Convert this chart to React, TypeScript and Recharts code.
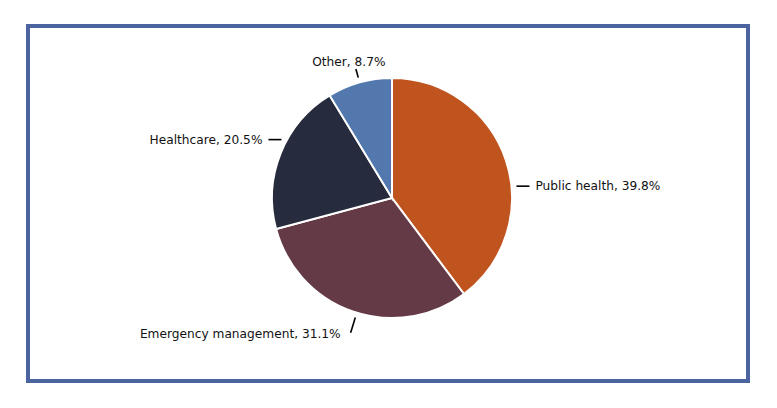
import { PieChart, Pie, Cell } from 'recharts';

const categories = ['Public health', 'Emergency management', 'Healthcare', 'Other'];
const shares = [39.8, 31.1, 20.5, 8.7];
const colors = ['#c0541f', '#643a46', '#262b3d', '#5278ad'];
// degrees to rotate each leader line away from the slice midpoint (best-fit style)
const labelNudge = [-13, 2, -6, 0];

const data = categories.map((name, i) => ({ name, value: shares[i] }));
const RAD = Math.PI / 180;

const renderLabel = (props: any) => {
  const { cx, cy, midAngle, outerRadius, index, name, value } = props;
  const a = (midAngle + labelNudge[index]) * RAD;
  const cos = Math.cos(a);
  const sin = Math.sin(a);
  const r1 = outerRadius + 5;
  const x1 = cx + r1 * cos;
  const y1 = cy - r1 * sin;
  let x2: number, y2: number, tx: number, ty: number, anchor: string;
  if (Math.abs(cos) > 0.8) {
    x2 = x1 + 13 * Math.sign(cos);
    y2 = y1;
    tx = x2 + 6 * Math.sign(cos);
    ty = y2;
    anchor = cos > 0 ? 'start' : 'end';
  } else {
    const len = sin > 0 ? 9 : 16;
    x2 = cx + (r1 + len) * cos;
    y2 = cy - (r1 + len) * sin;
    if (sin > 0) {
      tx = x2 - 7;
      ty = y2 - 7;
      anchor = 'middle';
    } else {
      tx = x2 - 10;
      ty = y2 + 1;
      anchor = 'end';
    }
  }
  return (
    <g>
      <line x1={x1} y1={y1} x2={x2} y2={y2} stroke="#000" strokeWidth={1.6} />
      <text x={tx} y={ty} textAnchor={anchor} dominantBaseline="central" fill="#111" fontSize={12.2} fontFamily="DejaVu Sans">
        {`${name}, ${value}%`}
      </text>
    </g>
  );
};

export default function App() {
  return (
    <div style={{ position: 'absolute', left: 0, top: 0, width: 777, height: 408, background: '#fff' }}>
      <div style={{ position: 'absolute', left: 26, top: 24, width: 716, height: 351, border: '4px solid #4b64a0' }} />
      <div style={{ position: 'absolute', left: 0, top: 0 }}>
        <PieChart width={777} height={408} margin={{ top: 0, right: 0, bottom: 0, left: 0 }}>
          <Pie
            data={data}
            dataKey="value"
            nameKey="name"
            cx={392}
            cy={198}
            outerRadius={120}
            startAngle={90}
            endAngle={-270}
            stroke="#fff"
            strokeWidth={2}
            label={renderLabel}
            labelLine={false}
            isAnimationActive={false}
          >
            {data.map((_, i) => (
              <Cell key={i} fill={colors[i]} />
            ))}
          </Pie>
        </PieChart>
      </div>
    </div>
  );
}
